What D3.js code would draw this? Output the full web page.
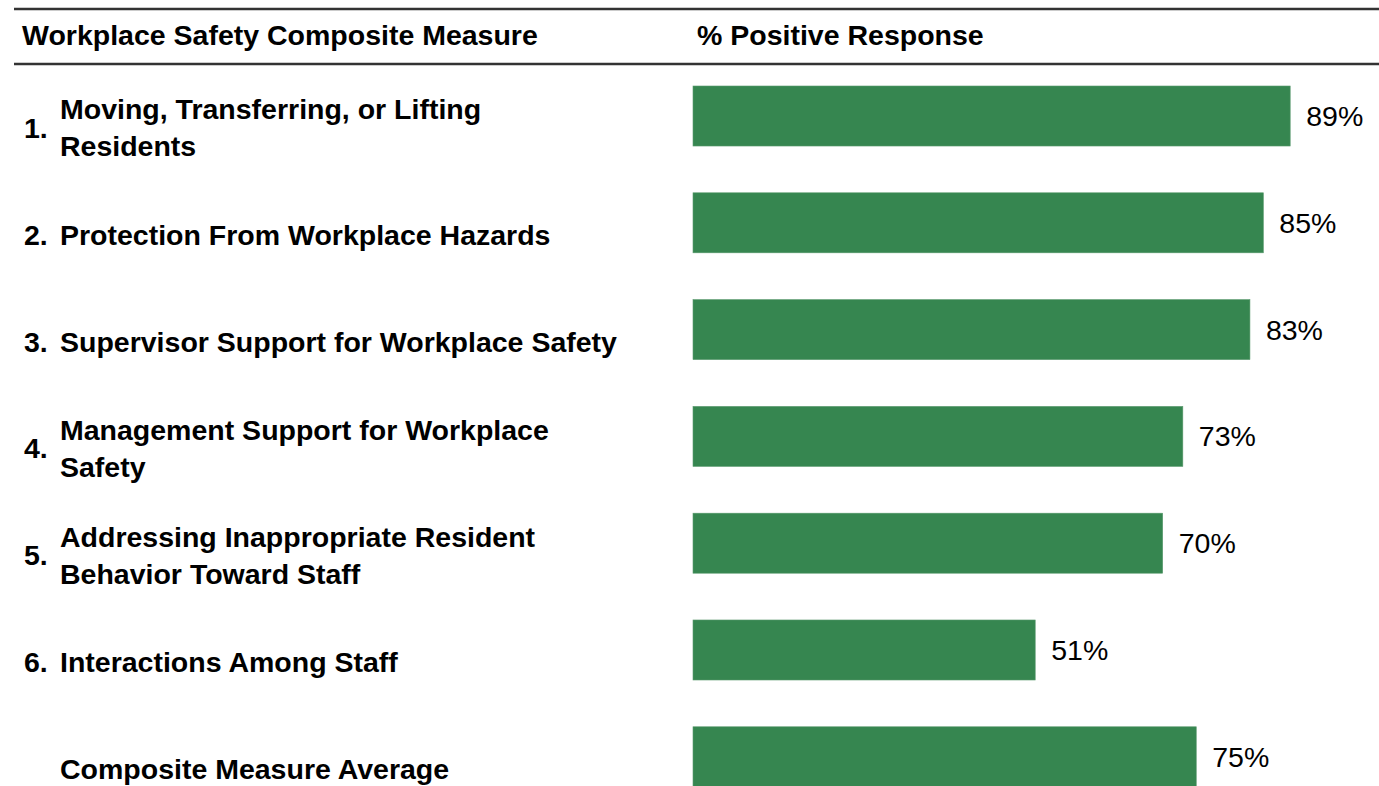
<!DOCTYPE html>
<html><head><meta charset="utf-8">
<script src="https://cdn.jsdelivr.net/npm/d3@7"></script>
<style>html,body{margin:0;padding:0;background:#fff;overflow:hidden}</style>
</head><body>
<svg id="chart" width="1379" height="786"></svg>
<script>
const numbers = ["1.", "2.", "3.", "4.", "5.", "6.", ""];
const categories = [
  ["Moving, Transferring, or Lifting", "Residents"],
  ["Protection From Workplace Hazards"],
  ["Supervisor Support for Workplace Safety"],
  ["Management Support for Workplace", "Safety"],
  ["Addressing Inappropriate Resident", "Behavior Toward Staff"],
  ["Interactions Among Staff"],
  ["Composite Measure Average"]
];
const values = [89, 85, 83, 73, 70, 51, 75];
const headers = ["Workplace Safety Composite Measure", "% Positive Response"];

const svg = d3.select("#chart");
const font = "'Liberation Sans', Arial, sans-serif";
const green = "#368650";
const fs = 28.5;

const x = d3.scaleLinear().domain([0, 100]).range([693, 1364]);
const y = d3.scaleBand().domain(d3.range(values.length)).range([86, 86 + 6 * 106.8 + 60]).paddingInner(0.438).paddingOuter(0);

svg.append("line").attr("x1", 14).attr("x2", 1379).attr("y1", 9).attr("y2", 9).attr("stroke", "#333").attr("stroke-width", 2.5);
svg.append("line").attr("x1", 14).attr("x2", 1379).attr("y1", 64).attr("y2", 64).attr("stroke", "#333").attr("stroke-width", 2.5);

svg.append("text").attr("x", 22).attr("y", 35).attr("dy", "0.35em").attr("font-family", font).attr("font-weight", "bold").attr("font-size", fs).attr("fill", "#000").text(headers[0]);
svg.append("text").attr("x", 697).attr("y", 35).attr("dy", "0.35em").attr("font-family", font).attr("font-weight", "bold").attr("font-size", fs).attr("fill", "#000").text(headers[1]);

const rows = svg.selectAll("g.row").data(values).join("g").attr("class", "row");

rows.append("rect")
  .attr("x", x(0))
  .attr("y", (d, i) => y(i))
  .attr("width", d => x(d) - x(0))
  .attr("height", y.bandwidth())
  .attr("fill", green)
  .attr("stroke", "#5a9a6e").attr("stroke-width", 0.6);

rows.append("text")
  .attr("x", d => x(d) + 16)
  .attr("y", (d, i) => y(i) + y.bandwidth() / 2)
  .attr("dy", "0.35em")
  .attr("font-family", font).attr("font-size", fs).attr("fill", "#000")
  .text(d => d + "%");

const lineH = 37;
rows.each(function(d, i) {
  const g = d3.select(this);
  const cy = y(i) + y.bandwidth() / 2 + 12;
  const lines = categories[i];
  const n = lines.length;
  lines.forEach((t, j) => {
    g.append("text")
      .attr("x", 60)
      .attr("y", cy + (j - (n - 1) / 2) * lineH)
      .attr("dy", "0.35em")
      .attr("font-family", font).attr("font-weight", "bold").attr("font-size", fs).attr("fill", "#000")
      .text(t);
  });
  if (numbers[i]) {
    g.append("text")
      .attr("x", 24)
      .attr("y", cy)
      .attr("dy", "0.35em")
      .attr("font-family", font).attr("font-weight", "bold").attr("font-size", fs).attr("fill", "#000")
      .text(numbers[i]);
  }
});
</script>
</body></html>
